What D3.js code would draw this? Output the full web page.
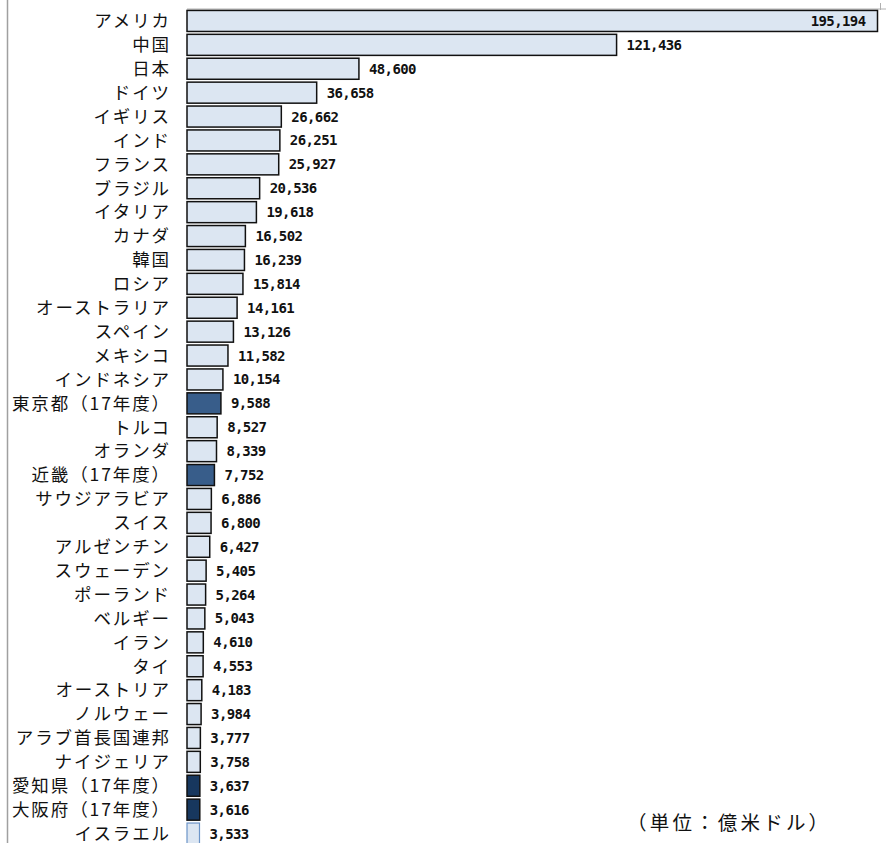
<!DOCTYPE html>
<html>
<head>
<meta charset="utf-8">
<script src="https://cdn.jsdelivr.net/npm/d3@7"></script>
<style>
  html, body { margin: 0; padding: 0; background: #fff; }
  #chart { width: 886px; height: 843px; overflow: hidden; }
</style>
</head>
<body>
<div id="chart"></div>
<script>
// countries / regions, top to bottom
const names = [
    "アメリカ", "中国", "日本", "ドイツ", "イギリス", "インド", "フランス", "ブラジル",
    "イタリア", "カナダ", "韓国", "ロシア", "オーストラリア", "スペイン", "メキシコ",
    "インドネシア", "東京都（17年度）", "トルコ", "オランダ", "近畿（17年度）",
    "サウジアラビア", "スイス", "アルゼンチン", "スウェーデン", "ポーランド", "ベルギー",
    "イラン", "タイ", "オーストリア", "ノルウェー", "アラブ首長国連邦", "ナイジェリア",
    "愛知県（17年度）", "大阪府（17年度）", "イスラエル"
];
// GDP, 億米ドル
const values = [
    195194, 121436, 48600, 36658, 26662, 26251, 25927, 20536,
    19618, 16502, 16239, 15814, 14161, 13126, 11582,
    10154, 9588, 8527, 8339, 7752,
    6886, 6800, 6427, 5405, 5264, 5043,
    4610, 4553, 4183, 3984, 3777, 3758,
    3637, 3616, 3533
];
const regionNames = ["東京都（17年度）", "近畿（17年度）"];
const prefNames = ["愛知県（17年度）", "大阪府（17年度）"];
const lastName = "イスラエル";
const unitLabel = "（単位：億米ドル）";

const data = names.map((n, i) => ({name: n, value: values[i]}));

const W = 886, H = 843;
const svg = d3.select("#chart").append("svg")
    .attr("width", W)
    .attr("height", H);

const x = d3.scaleLinear()
    .domain([0, d3.max(values)])
    .range([187, 877.5]);

const y = d3.scaleBand()
    .domain(names)
    .range([9, 9 + 35 * 23.9])
    .paddingInner(0.12)
    .paddingOuter(0.06);

// frame lines
svg.append("line")
    .attr("x1", 7.5).attr("x2", 7.5)
    .attr("y1", 0).attr("y2", H)
    .attr("stroke", "#a0a0a0").attr("stroke-width", 1.5);
svg.append("line")
    .attr("x1", x(0)).attr("x2", W)
    .attr("y1", 9).attr("y2", 9)
    .attr("stroke", "#b0b0b0").attr("stroke-width", 1);
svg.append("line")
    .attr("x1", 880.5).attr("x2", 880.5)
    .attr("y1", 3).attr("y2", 10)
    .attr("stroke", "#b0b0b0").attr("stroke-width", 1);

function fillOf(d) {
    if (regionNames.includes(d.name)) return "#385d8a";
    if (prefNames.includes(d.name)) return "#17375e";
    return "#dce6f2";
}

svg.append("g")
    .selectAll("rect")
    .data(data)
    .enter().append("rect")
    .attr("x", x(0))
    .attr("y", d => y(d.name))
    .attr("width", d => x(d.value) - x(0))
    .attr("height", y.bandwidth())
    .attr("fill", fillOf)
    .attr("stroke", d => d.name === lastName ? "#6d95c8" : "#111")
    .attr("stroke-width", d => d.name === lastName ? 1.2 : 1.5);

// category labels
svg.append("g")
    .selectAll("text")
    .data(data)
    .enter().append("text")
    .attr("x", 171)
    .attr("y", d => y(d.name) + y.bandwidth() / 2)
    .attr("dy", "0.36em")
    .attr("text-anchor", "end")
    .style("font-family", "'Noto Sans CJK JP', sans-serif")
    .style("font-size", "17.5px")
    .style("letter-spacing", "1.9px")
    .style("fill", "#111")
    .text(d => d.name);

// value labels
const fmt = d3.format(",");
svg.append("g")
    .selectAll("text")
    .data(data)
    .enter().append("text")
    .attr("x", d => d.value > 150000 ? x(d.value) - 12 : x(d.value) + 10)
    .attr("y", d => y(d.name) + y.bandwidth() / 2)
    .attr("dy", "0.36em")
    .attr("text-anchor", d => d.value > 150000 ? "end" : "start")
    .style("font-family", "'DejaVu Sans Mono', monospace")
    .style("font-weight", "bold")
    .style("font-size", "14px")
    .style("letter-spacing", "-0.6px")
    .style("fill", "#111")
    .text(d => fmt(d.value));

svg.append("text")
    .attr("x", 627)
    .attr("y", 823)
    .attr("dy", "0.36em")
    .style("font-family", "'Noto Sans CJK JP', sans-serif")
    .style("font-size", "19.5px")
    .style("letter-spacing", "3.2px")
    .style("fill", "#111")
    .text(unitLabel);
</script>
</body>
</html>
